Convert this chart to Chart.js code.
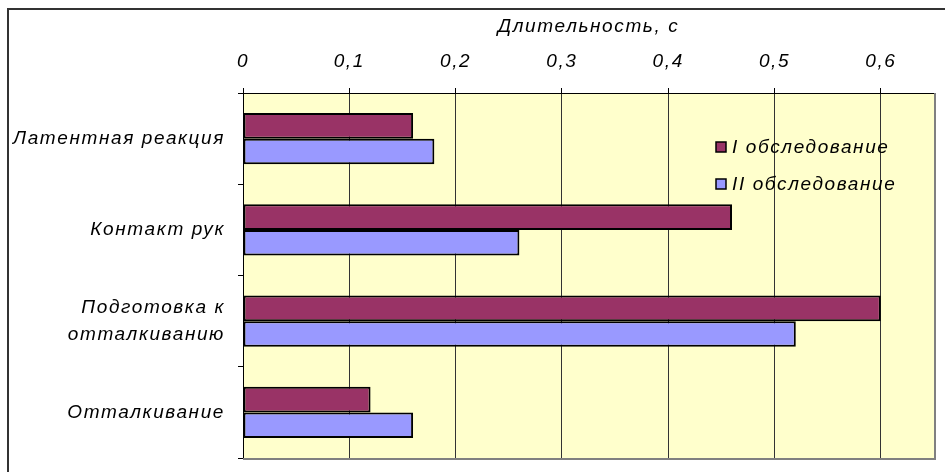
<!doctype html>
<html lang="ru">
<head>
<meta charset="utf-8">
<title>Длительность</title>
<script src="https://cdn.jsdelivr.net/npm/chart.js@4.4.1/dist/chart.umd.min.js"></script>
<style>
	html, body { margin: 0; padding: 0; background: #fff; }
	#wrap { position: relative; width: 945px; height: 472px; }
</style>
</head>
<body>
<div id="wrap"><canvas id="myChart" width="945" height="472"></canvas></div>
<script type="text/javascript">
	// data
	var categories = ['Латентная реакция', 'Контакт рук', ['Подготовка к', 'отталкиванию'], 'Отталкивание'];
	var seriesNames = ['I обследование', 'II обследование'];
	var series1 = [0.16, 0.46, 0.60, 0.12];
	var series2 = [0.18, 0.26, 0.52, 0.16];
	var xTicks = [0, 0.1, 0.2, 0.3, 0.4, 0.5, 0.6];
	var colors = ['#993366', '#9999FF'];

	var FONT = 'Arial, "Liberation Sans", sans-serif';
	var SPACING = '1.6px';

	// wide letter spacing like the original (canvas state is reset on resize)
	var spacingPlugin = {
		id: 'spacing',
		beforeLayout: function(chart) { chart.ctx.letterSpacing = SPACING; },
		beforeDraw: function(chart) { chart.ctx.letterSpacing = SPACING; }
	};

	// yellow plot area, frame and chart border
	var framePlugin = {
		id: 'frame',
		beforeDraw: function(chart) {
			var ctx = chart.ctx, a = chart.chartArea;
			ctx.save();
			ctx.fillStyle = '#FFFFCC';
			ctx.fillRect(a.left, a.top, a.right - a.left, a.bottom - a.top);
			ctx.strokeStyle = '#333';
			ctx.lineWidth = 2;
			ctx.strokeRect(8, 9, 960, 500);
			ctx.restore();
		},
		afterDraw: function(chart) {
			var ctx = chart.ctx, a = chart.chartArea;
			ctx.save();
			ctx.strokeStyle = '#808080';
			ctx.lineWidth = 2;
			ctx.beginPath();
			ctx.moveTo(a.right + 1, a.top);
			ctx.lineTo(a.right + 1, a.bottom + 1);
			ctx.lineTo(a.left, a.bottom + 1);
			ctx.stroke();
			ctx.restore();
		}
	};

	// legend inside the plot, top right
	var legendPlugin = {
		id: 'innerLegend',
		afterDraw: function(chart) {
			var ctx = chart.ctx;
			ctx.save();
			ctx.font = 'italic 19px ' + FONT;
			ctx.textBaseline = 'middle';
			chart.data.datasets.forEach(function(ds, i) {
				var y = 147 + i * 37;
				ctx.fillStyle = ds.backgroundColor;
				ctx.fillRect(716, y - 5, 10, 10);
				ctx.strokeStyle = '#000';
				ctx.lineWidth = 1.5;
				ctx.strokeRect(716, y - 5, 10, 10);
				ctx.fillStyle = '#000';
				ctx.fillText(ds.label, 732, y + 1);
			});
			ctx.restore();
		}
	};

	var ctx = document.getElementById('myChart').getContext('2d');
	var chart = new Chart(ctx, {
		type: 'bar',
		data: {
			labels: categories,
			datasets: [{
				label: seriesNames[0],
				data: series1,
				backgroundColor: colors[0],
				borderColor: '#000',
				borderWidth: 2,
				borderSkipped: false
			}, {
				label: seriesNames[1],
				data: series2,
				backgroundColor: colors[1],
				borderColor: '#000',
				borderWidth: 2,
				borderSkipped: false
			}]
		},
		plugins: [spacingPlugin, framePlugin, legendPlugin],
		options: {
			indexAxis: 'y',
			responsive: false,
			animation: false,
			categoryPercentage: 0.56,
			barPercentage: 1.0,
			layout: { padding: { left: 8, top: 10, right: 11, bottom: 14 } },
			plugins: {
				legend: { display: false },
				tooltip: { enabled: false }
			},
			scales: {
				x: {
					position: 'top',
					min: 0,
					max: 0.65,
					afterBuildTicks: function(scale) {
						scale.ticks = xTicks.map(function(v) { return { value: v }; });
					},
					afterFit: function(scale) { scale.height = 83; },
					grid: {
						color: '#333',
						lineWidth: 1,
						drawTicks: true,
						tickLength: 5,
						tickColor: '#000'
					},
					border: { display: true, color: '#000', width: 1 },
					ticks: {
						color: '#000',
						padding: 15,
						font: { family: FONT, size: 19, style: 'italic' },
						callback: function(v) { return String(v).replace('.', ','); }
					},
					title: {
						display: true,
						text: 'Длительность, с',
						color: '#000',
						padding: { top: 5, bottom: 0 },
						font: { family: FONT, size: 19, style: 'italic' }
					}
				},
				y: {
					afterFit: function(scale) {
						scale.width = 235;
						scale.paddingTop = 0;
						scale.paddingBottom = 0;
					},
					grid: {
						drawOnChartArea: false,
						drawTicks: true,
						tickLength: 5,
						tickColor: '#000',
						offset: true
					},
					border: { display: true, color: '#000', width: 1 },
					ticks: {
						color: '#000',
						padding: 13,
						font: { family: FONT, size: 19, style: 'italic', lineHeight: 1.45 }
					}
				}
			}
		}
	});
</script>
</body>
</html>
